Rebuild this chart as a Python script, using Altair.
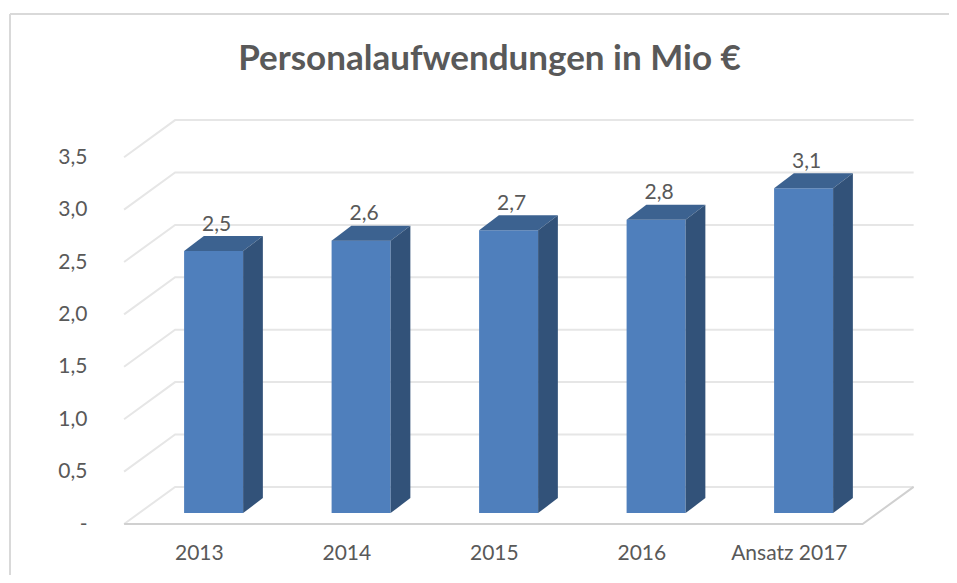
import altair as alt
import pandas as pd

# ---- chart values
categories = ["2013", "2014", "2015", "2016", "Ansatz 2017"]
values = [2.5, 2.6, 2.7, 2.8, 3.1]
value_labels = ["2,5", "2,6", "2,7", "2,8", "3,1"]
ticks = [0.0, 0.5, 1.0, 1.5, 2.0, 2.5, 3.0, 3.5]
tick_labels = ["-", "0,5", "1,0", "1,5", "2,0", "2,5", "3,0", "3,5"]

# ---- 3D box geometry, in axis units
BAR_HALF = 0.2
BAR_BASE = 0.104
BAR_DX, BAR_DY = 0.134, 0.143
WALL_DX, WALL_DY = 0.346, 0.354
FLOOR_L, FLOOR_R = -0.607, 4.4
LABEL_SHIFT = -0.1
X_DOM = [-1.3939, 4.9858]
Y_DOM = [-0.4866, 4.9237]

X = alt.X("x:Q", scale=alt.Scale(domain=X_DOM, nice=False, zero=False))
Y = alt.Y("y:Q", scale=alt.Scale(domain=Y_DOM, nice=False, zero=False))

font = "Lato"
text_color = "#595959"
axis_size = 21

# ---- walls and floor
grid_rows = []
for t in ticks:
    grid_rows += [
        {"t": t, "x": FLOOR_L, "y": t},
        {"t": t, "x": FLOOR_L + WALL_DX, "y": t + WALL_DY},
        {"t": t, "x": FLOOR_R + WALL_DX, "y": t + WALL_DY},
    ]
grid = alt.Chart(pd.DataFrame(grid_rows)).mark_line(color="#e6e6e6", strokeWidth=2).encode(
    x=X, y=Y, detail="t:N"
)

floor_rows = [
    {"x": FLOOR_L, "y": 0.0},
    {"x": FLOOR_R, "y": 0.0},
    {"x": FLOOR_R + WALL_DX, "y": WALL_DY},
]
floor = alt.Chart(pd.DataFrame(floor_rows)).mark_line(color="#d0d0d0", strokeWidth=2).encode(x=X, y=Y)

# ---- axes (tick labels only)
x_vals = [i + LABEL_SHIFT for i in range(len(categories))]
x_expr = "[" + ",".join(f"'{c}'" for c in categories) + "][round(datum.value+0.1)]"
y_expr = "[" + ",".join(f"'{l}'" for l in tick_labels) + "][round(datum.value*2)]"
axis_style = dict(domain=False, ticks=False, grid=False, title=None, labelFont=font, labelFontSize=axis_size,
                  labelColor=text_color)
axes = alt.Chart(pd.DataFrame({"x": [0.0], "y": [0.0]})).mark_point(opacity=0).encode(
    x=alt.X("x:Q", scale=alt.Scale(domain=X_DOM, nice=False, zero=False),
            axis=alt.Axis(values=x_vals, labelExpr=x_expr, offset=-22, labelPadding=0, labelBaseline="middle",
                          labelAlign="center", labelOverlap=False, **axis_style)),
    y=alt.Y("y:Q", scale=alt.Scale(domain=Y_DOM, nice=False, zero=False),
            axis=alt.Axis(values=ticks, labelExpr=y_expr, offset=-79, labelPadding=0, labelBaseline="middle",
                          labelOverlap=False, **axis_style)),
)

# ---- bars
front_rows, top_rows, side_rows, label_rows = [], [], [], []
for i, (v, lab) in enumerate(zip(values, value_labels)):
    l, r = i - BAR_HALF, i + BAR_HALF
    b, t = BAR_BASE, BAR_BASE + v
    front_rows.append({"x": l, "x2": r, "y": b, "y2": t})
    top_rows += [
        {"i": i, "x": l, "y": t, "y2": t},
        {"i": i, "x": l + BAR_DX, "y": t, "y2": t + BAR_DY},
        {"i": i, "x": r, "y": t, "y2": t + BAR_DY},
        {"i": i, "x": r + BAR_DX, "y": t + BAR_DY, "y2": t + BAR_DY},
    ]
    side_rows += [
        {"i": i, "x": r, "y": b, "y2": t},
        {"i": i, "x": r + BAR_DX, "y": b + BAR_DY, "y2": t + BAR_DY},
    ]
    label_rows.append({"x": i + 0.02, "y": t + 0.25, "label": lab})

front = alt.Chart(pd.DataFrame(front_rows)).mark_rect(color="#4f7fbc").encode(
    x=X, x2="x2:Q", y=Y, y2="y2:Q"
)
top = alt.Chart(pd.DataFrame(top_rows)).mark_area(color="#3c6290", interpolate="linear").encode(
    x=X, y=Y, y2="y2:Q", detail="i:N"
)
side = alt.Chart(pd.DataFrame(side_rows)).mark_area(color="#325279", interpolate="linear").encode(
    x=X, y=Y, y2="y2:Q", detail="i:N"
)
labels = alt.Chart(pd.DataFrame(label_rows)).mark_text(
    font=font, fontSize=axis_size, color=text_color, baseline="middle", align="center"
).encode(x=X, y=Y, text="label:N")

# ---- chart frame (top and left edges only)
frame_color = "#d9d9d9"
frame_top = alt.Chart(pd.DataFrame({"a": [0]})).mark_rule(color=frame_color, strokeWidth=2).encode(
    x=alt.value(2), x2=alt.value(941), y=alt.value(6)
)
frame_left = alt.Chart(pd.DataFrame({"a": [0]})).mark_rule(color=frame_color, strokeWidth=2).encode(
    x=alt.value(2), y=alt.value(6), y2=alt.value(567)
)

chart = (
    alt.layer(axes, frame_top, frame_left, grid, floor, front, top, side, labels)
    .properties(
        width=941,
        height=567,
        padding=0,
        autosize=alt.AutoSizeParams(type="none"),
        title=alt.TitleParams(
            "Personalaufwendungen in Mio €", font=font, fontSize=35, fontWeight="bold", color=text_color,
            anchor="middle", dx=11, dy=73,
        ),
    )
    .configure_view(stroke=None)
)
chart.save("out.html", embed_options={"renderer": "svg", "actions": False})
